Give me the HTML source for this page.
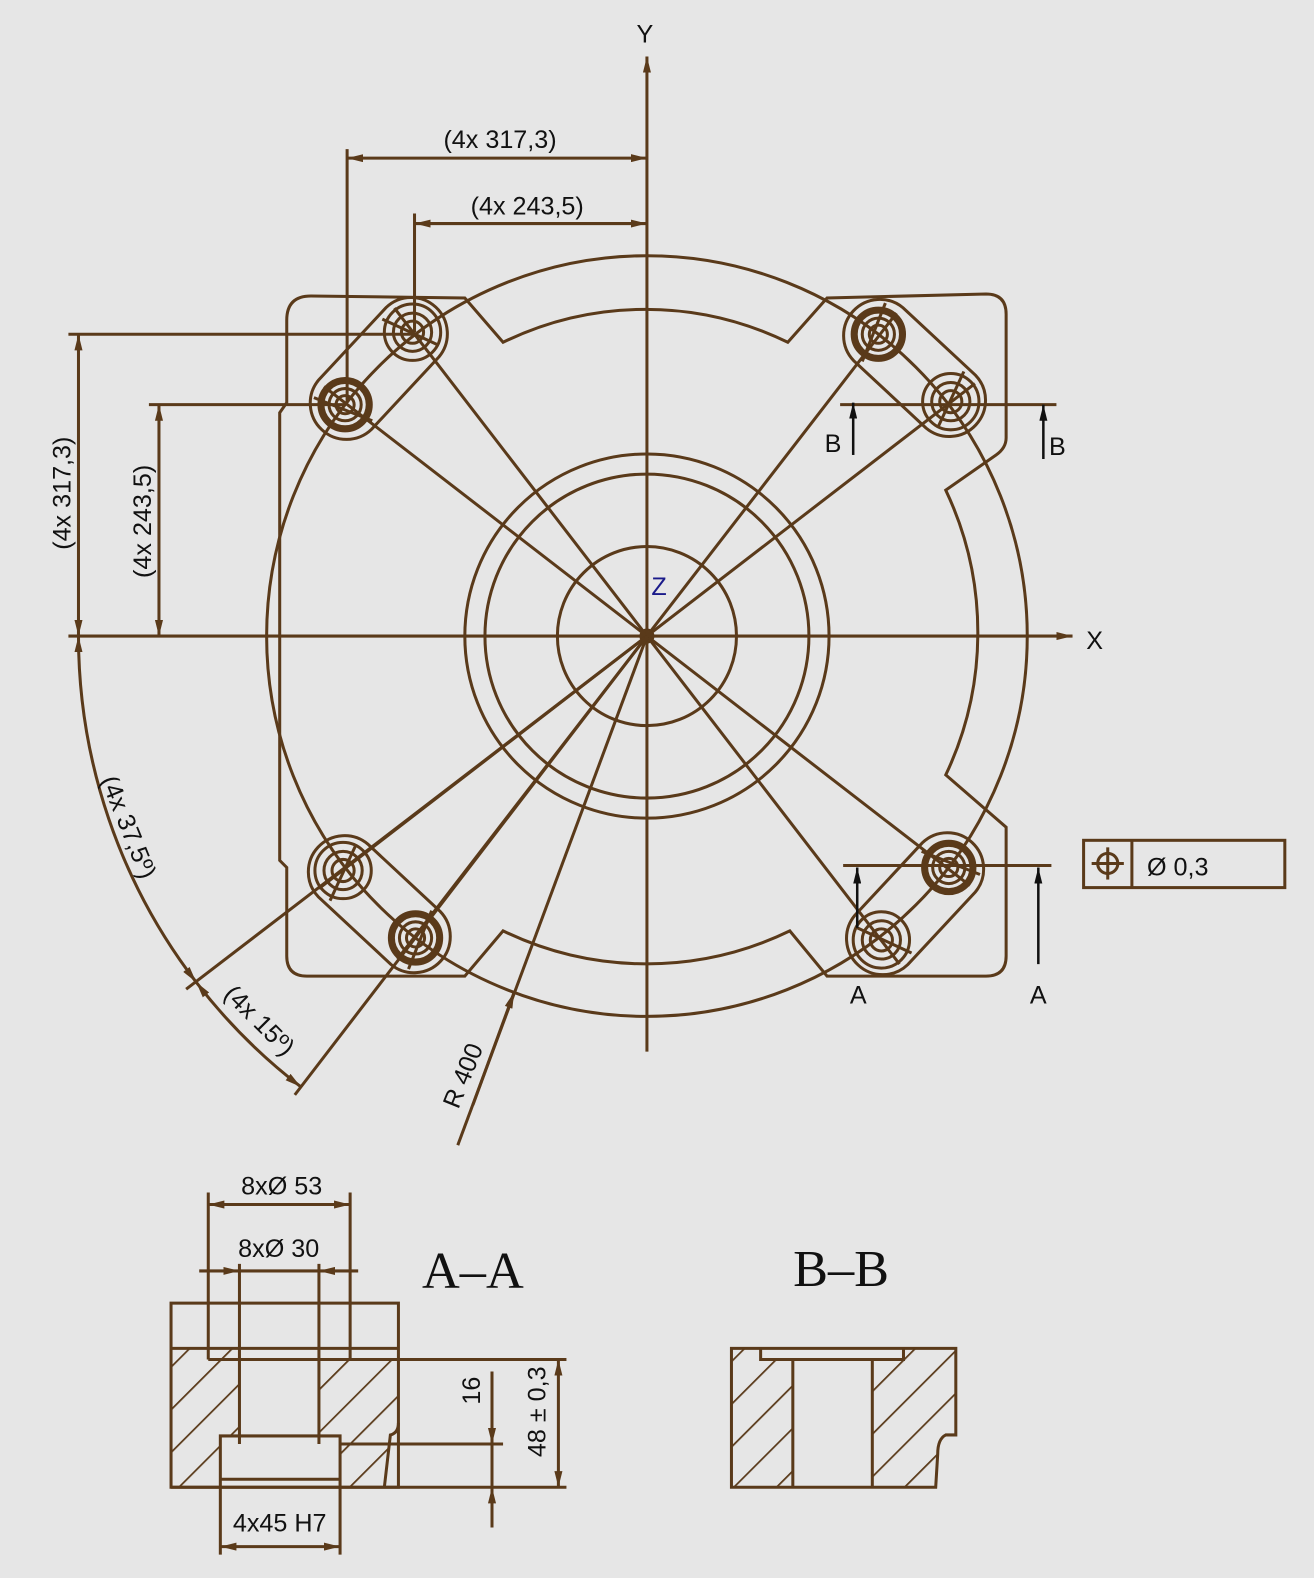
<!DOCTYPE html>
<html><head><meta charset="utf-8"><style>
html,body{margin:0;padding:0;background:#e6e6e6;}
svg{display:block}
text{font-family:"Liberation Sans",Arial,sans-serif;fill:#111;}
</style></head><body>
<svg width="1314" height="1578" viewBox="0 0 1306 1568" xmlns="http://www.w3.org/2000/svg">
<defs>
<marker id="ar" viewBox="0 0 16 8" refX="16" refY="4" markerWidth="16" markerHeight="8" markerUnits="userSpaceOnUse" orient="auto-start-reverse"><path d="M0,0 L16,4 L0,8 Z" fill="#5a3a1a"/></marker>
<marker id="arb" viewBox="0 0 16 8" refX="16" refY="4" markerWidth="16" markerHeight="8" markerUnits="userSpaceOnUse" orient="auto-start-reverse"><path d="M0,0 L16,4 L0,8 Z" fill="#111"/></marker>
<pattern id="hatch" patternUnits="userSpaceOnUse" width="30" height="30" patternTransform="rotate(45)">
<line x1="0" y1="0" x2="0" y2="30" stroke="#5a3a1a" stroke-width="3.5"/></pattern>
<g id="tl">
<path d="M436.3,354.5 L369.3,426.5 A36,36 0 0 1 316.7,377.5 L383.7,305.5 A36,36 0 0 1 436.3,354.5 Z" fill="none"/>
<circle cx="410" cy="330" r="28"/><circle cx="410" cy="330" r="19"/><circle cx="410" cy="330" r="11"/>
<circle cx="343" cy="402" r="24" stroke-width="7"/><circle cx="343" cy="402" r="16"/><circle cx="343" cy="402" r="9"/>
<line x1="643" y1="632" x2="392" y2="306"/><line x1="643" y1="632" x2="322" y2="384"/>
<line x1="380" y1="317" x2="436" y2="343"/><line x1="312" y1="395" x2="370" y2="418"/>
</g>
</defs>
<rect width="1306" height="1568" fill="#e6e6e6"/>
<g stroke="#5a3a1a" stroke-width="3" fill="none">
<circle cx="643" cy="632" r="378"/>
<circle cx="643" cy="632" r="181"/>
<circle cx="643" cy="632" r="161"/>
<circle cx="643" cy="632" r="89"/>
<circle cx="643" cy="632" r="6"/>
<path d="M285,392 L285,318 Q285,294 309,294 L462,296 L500,340 A322,322 0 0 1 783,340 L822,296 L980,292 Q1000,292 1000,312 L1000,435 Q1000,445 990,452 L940,487 A330,330 0 0 1 940,770 L1000,822 L1000,950 Q1000,970 980,970 L822,970 L785,925 A326,326 0 0 1 500,925 L462,970 L305,970 Q285,970 285,950 L285,862 L278,855 L278,410 L285,400 Z"/>
<use href="#tl"/>
<use href="#tl" transform="rotate(90,643,632)"/>
<use href="#tl" transform="rotate(180,643,632)"/>
<use href="#tl" transform="rotate(270,643,632)"/>
<line x1="643" y1="1045" x2="643" y2="56" marker-end="url(#ar)"/>
<line x1="68" y1="632" x2="1066" y2="632" marker-end="url(#ar)"/>
<line x1="345" y1="148" x2="345" y2="400"/>
<line x1="412" y1="212" x2="412" y2="330"/>
<line x1="345" y1="157" x2="643" y2="157" marker-start="url(#ar)" marker-end="url(#ar)"/>
<line x1="412" y1="222" x2="643" y2="222" marker-start="url(#ar)" marker-end="url(#ar)"/>
<line x1="68" y1="332" x2="410" y2="332"/>
<line x1="148" y1="402" x2="343" y2="402"/>
<line x1="78" y1="332" x2="78" y2="632" marker-start="url(#ar)" marker-end="url(#ar)"/>
<line x1="158" y1="402" x2="158" y2="632" marker-start="url(#ar)" marker-end="url(#ar)"/>
<path d="M78,632 A565,565 0 0 0 195,976" marker-start="url(#ar)" marker-end="url(#ar)"/>
<path d="M195,976 A565,565 0 0 0 299,1080" marker-start="url(#ar)" marker-end="url(#ar)"/>
<line x1="643" y1="632" x2="185" y2="983"/>
<line x1="643" y1="632" x2="293" y2="1088"/>
<line x1="455" y1="1138" x2="643" y2="632"/>
<line x1="470" y1="1098" x2="511" y2="986" marker-end="url(#ar)"/>
<line x1="835" y1="402" x2="1050" y2="402"/>
<line x1="838" y1="860" x2="1045" y2="860"/>
</g>
<g stroke="#111" stroke-width="2.5">
<line x1="848" y1="452" x2="848" y2="400" marker-end="url(#arb)"/>
<line x1="1037" y1="456" x2="1037" y2="402" marker-end="url(#arb)"/>
<line x1="852" y1="922" x2="852" y2="862" marker-end="url(#arb)"/>
<line x1="1032" y1="958" x2="1032" y2="862" marker-end="url(#arb)"/>
</g>
<g stroke="#5a3a1a" stroke-width="3" fill="none">
<rect x="1077" y="835" width="200" height="47"/>
<line x1="1125" y1="835" x2="1125" y2="882"/>
<circle cx="1101" cy="858" r="10"/>
<line x1="1085" y1="858" x2="1117" y2="858"/><line x1="1101" y1="842" x2="1101" y2="874"/>
</g>
<g font-size="25">
<text x="641" y="42" text-anchor="middle">Y</text>
<text x="1088" y="645" text-anchor="middle">X</text>
<text x="655" y="591" text-anchor="middle" style="fill:#1a1a8a">Z</text>
<text x="497" y="147" text-anchor="middle">(4x 317,3)</text>
<text x="524" y="213" text-anchor="middle">(4x 243,5)</text>
<text transform="translate(70,490) rotate(-90)" text-anchor="middle">(4x 317,3)</text>
<text transform="translate(150,518) rotate(-90)" text-anchor="middle">(4x 243,5)</text>
<text transform="translate(120,825) rotate(68)" text-anchor="middle">(4x 37,5º)</text>
<text transform="translate(252,1020) rotate(45)" text-anchor="middle">(4x 15º)</text>
<text transform="translate(468,1072) rotate(-68)" text-anchor="middle">R 400</text>
<text x="828" y="449" text-anchor="middle">B</text>
<text x="1051" y="452" text-anchor="middle">B</text>
<text x="853" y="997" text-anchor="middle">A</text>
<text x="1032" y="997" text-anchor="middle">A</text>
<text x="1140" y="870">Ø 0,3</text>
<text x="280" y="1187" text-anchor="middle">8xØ 53</text>
<text x="277" y="1249" text-anchor="middle">8xØ 30</text>
<text x="278" y="1522" text-anchor="middle">4x45 H7</text>
<text transform="translate(477,1382) rotate(-90)" text-anchor="middle">16</text>
<text transform="translate(542,1403) rotate(-90)" text-anchor="middle">48 ± 0,3</text>
</g>
<g font-size="52">
<text x="470" y="1280" text-anchor="middle" style="font-family:'Liberation Serif',serif">A–A</text>
<text x="836" y="1278" text-anchor="middle" style="font-family:'Liberation Serif',serif">B–B</text>
</g>
<g stroke="#5a3a1a" stroke-width="3" fill="none">
<path d="M170,1340 L238,1340 L238,1426 L219,1426 L219,1478 L170,1478 Z M317,1350 L396,1350 L396,1414 Q396,1425 388,1426 L382,1478 L338,1478 L338,1435 L317,1435 Z" fill="url(#hatch)" stroke="none"/>
<rect x="170" y="1295" width="226" height="183"/>
<line x1="170" y1="1340" x2="396" y2="1340"/>
<line x1="207" y1="1185" x2="207" y2="1351"/>
<line x1="348" y1="1185" x2="348" y2="1351"/>
<line x1="207" y1="1351" x2="563" y2="1351"/>
<line x1="238" y1="1256" x2="238" y2="1435"/>
<line x1="317" y1="1256" x2="317" y2="1435"/>
<path d="M219,1545 L219,1427 L338,1427 L338,1545"/>
<line x1="219" y1="1470" x2="338" y2="1470"/>
<line x1="338" y1="1435" x2="500" y2="1435"/>
<line x1="170" y1="1478" x2="563" y2="1478"/>
<path d="M396,1414 Q396,1424 388,1426 L382,1478" />
<line x1="207" y1="1197" x2="348" y2="1197" marker-start="url(#ar)" marker-end="url(#ar)"/>
<line x1="198" y1="1263" x2="238" y2="1263" marker-end="url(#ar)"/>
<line x1="356" y1="1263" x2="317" y2="1263" marker-end="url(#ar)"/>
<line x1="238" y1="1263" x2="317" y2="1263"/>
<line x1="219" y1="1537" x2="338" y2="1537" marker-start="url(#ar)" marker-end="url(#ar)"/>
<line x1="555" y1="1351" x2="555" y2="1478" marker-start="url(#ar)" marker-end="url(#ar)"/>
<line x1="489" y1="1363" x2="489" y2="1435" marker-end="url(#ar)"/>
<line x1="489" y1="1518" x2="489" y2="1478" marker-end="url(#ar)"/>
<line x1="489" y1="1435" x2="489" y2="1478"/>
</g>
<g stroke="#5a3a1a" stroke-width="3" fill="none">
<path d="M727,1340 L756,1340 L756,1351 L788,1351 L788,1478 L727,1478 Z M867,1351 L898,1351 L898,1340 L950,1340 L950,1426 L940,1426 Q932,1430 932,1445 L930,1478 L867,1478 Z" fill="url(#hatch)" stroke="none"/>
<path d="M727,1340 L950,1340 L950,1426 L940,1426 Q932,1430 932,1445 L930,1478 L727,1478 Z"/>
<path d="M756,1340 L756,1351 L898,1351 L898,1340"/>
<line x1="788" y1="1351" x2="788" y2="1478"/>
<line x1="867" y1="1351" x2="867" y2="1478"/>
</g>
</svg>
</body></html>
